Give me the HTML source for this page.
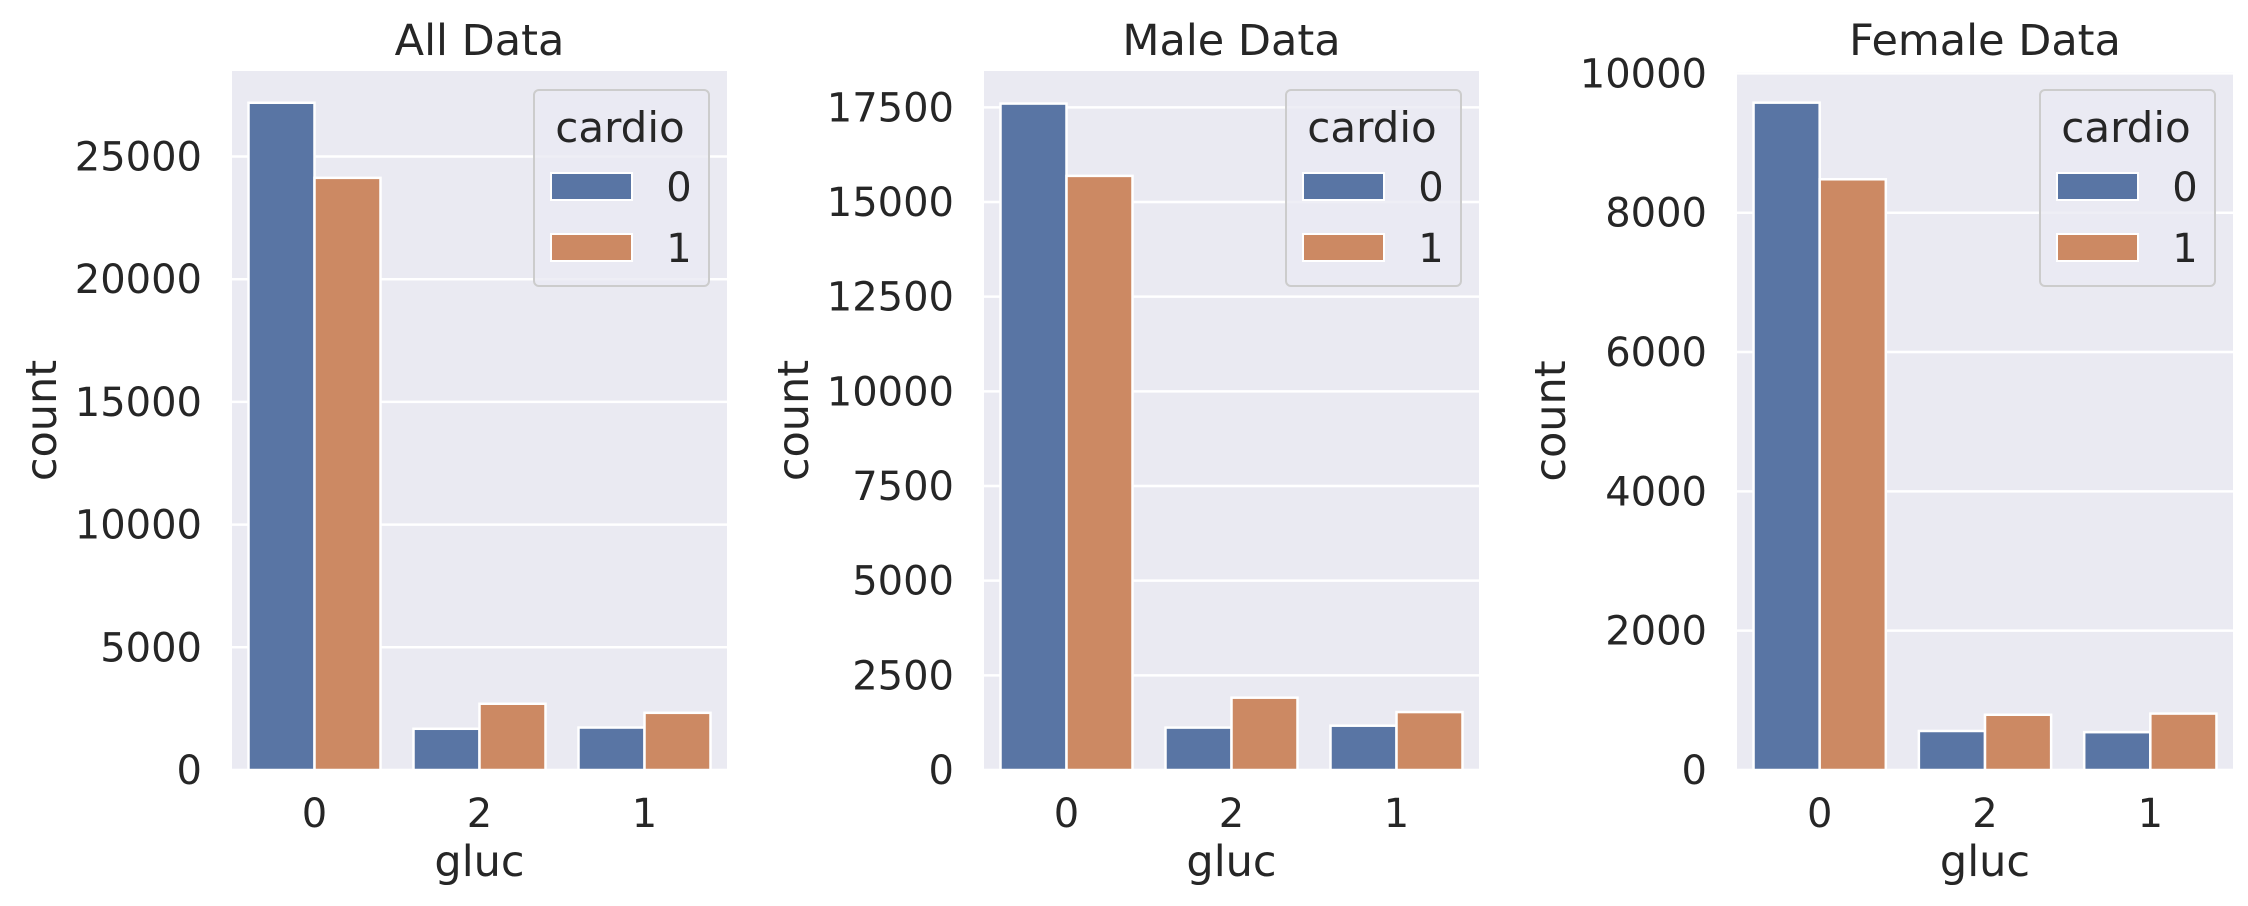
<!DOCTYPE html>
<html><head><meta charset="utf-8"><style>
html,body{margin:0;padding:0;background:#fff;}
svg{display:block;font-family:"DejaVu Sans","Liberation Sans",sans-serif;}
</style></head><body>
<svg id="chart" width="2248" height="906" viewBox="0 0 2248 906" xmlns="http://www.w3.org/2000/svg"></svg>
<script>
const categories = ["0", "2", "1"];
const hueLabels = ["0", "1"];
const allCardio0 = [27190, 1680, 1730];
const allCardio1 = [24130, 2700, 2330];
const maleCardio0 = [17600, 1120, 1170];
const maleCardio1 = [15690, 1910, 1530];
const femaleCardio0 = [9580, 560, 543];
const femaleCardio1 = [8480, 793, 810];
const allTicks = [0, 5000, 10000, 15000, 20000, 25000];
const maleTicks = [0, 2500, 5000, 7500, 10000, 12500, 15000, 17500];
const femaleTicks = [0, 2000, 4000, 6000, 8000, 10000];
const titles = ["All Data", "Male Data", "Female Data"];

const NS = "http://www.w3.org/2000/svg";
const svg = document.getElementById("chart");
const colors = ["#5975a4", "#cc8963"];
function mk(tag, attrs, parent, text) {
  const e = document.createElementNS(NS, tag);
  for (const k in attrs) e.setAttribute(k, attrs[k]);
  if (text !== undefined) e.textContent = text;
  (parent || svg).appendChild(e);
  return e;
}
const panels = [
  {key:"all", left:232, right:727, top:71, bottom:770, ymax:28484, s0:allCardio0, s1:allCardio1, ticks:allTicks},
  {key:"male", left:984, right:1479, top:71, bottom:770, ymax:18460, s0:maleCardio0, s1:maleCardio1, ticks:maleTicks},
  {key:"female", left:1737, right:2233, top:72, bottom:770, ymax:10020, s0:femaleCardio0, s1:femaleCardio1, ticks:femaleTicks}
];
panels.forEach((p, pi) => {
  const g = mk("g", {});
  
  
  const y = v => p.bottom - v / p.ymax * (p.bottom - p.top);
  const cw = (p.right - p.left) / categories.length;
  const x = i => p.left + cw * (i + 0.5);
  const bg = mk("rect", {x:p.left, y:p.top, width:p.right-p.left, height:p.bottom-p.top, fill:"#eaeaf2"}, g);
  
  
  p.ticks.forEach(t => {
    const gl = mk("line", {x1:p.left, x2:p.right, y1:y(t), y2:y(t), stroke:"#fff", "stroke-width":2.5}, g);
    
    
    const tl = mk("text", {x:p.left-30, y:y(t)+14, "text-anchor":"end", "font-size":40, fill:"#262626"}, g, String(t));
    
    
  });
  const bw = cw * 0.8 / 2;
  [p.s0, p.s1].forEach((series, si) => {
    series.forEach((v, i) => {
      const bx = x(i) - cw * 0.4 + si * bw;
      const b = mk("rect", {x:bx, y:y(v), width:bw, height:p.bottom - y(v), fill:colors[si], stroke:"#fff", "stroke-width":2.5}, g);
      
      
    });
  });
  categories.forEach((c, i) => {
    const xl = mk("text", {x:x(i), y:827, "text-anchor":"middle", "font-size":40, fill:"#262626"}, g, c);
    
    
  });
  const xt = mk("text", {x:(p.left+p.right)/2, y:876, "text-anchor":"middle", "font-size":43, fill:"#262626"}, g, "gluc");
  
  
  const cx = p.left - 176 + (pi === 2 ? 4 : 0);
  const yt = mk("text", {x:0, y:0, "text-anchor":"middle", "font-size":43, fill:"#262626", transform:"translate(" + cx + "," + ((p.top+p.bottom)/2) + ") rotate(-90)"}, g, "count");
  
  
  const tt = mk("text", {x:(p.left+p.right)/2, y:55, "text-anchor":"middle", "font-size":43, fill:"#262626"}, g, titles[pi]);
  
  
  // legend
  const lx = p.right - 193, ly = 90;
  const lg = mk("g", {}, g);
  
  
  mk("rect", {x:lx, y:ly, width:175, height:196, rx:5, fill:"#eaeaf2", "fill-opacity":0.8, stroke:"#cccccc", "stroke-width":2}, lg);
  const lt = mk("text", {x:lx+86, y:ly+52, "text-anchor":"middle", "font-size":42, fill:"#262626"}, lg, "cardio");
  
  
  hueLabels.forEach((h, si) => {
    const e = mk("g", {}, lg);
    
    
    mk("rect", {x:lx+17, y:ly+83+si*61, width:81, height:27, fill:colors[si], stroke:"#fff", "stroke-width":2}, e);
    mk("text", {x:lx+145, y:ly+111+si*61, "text-anchor":"middle", "font-size":40, fill:"#262626"}, e, h);
  });
});
</script>
</body></html>
